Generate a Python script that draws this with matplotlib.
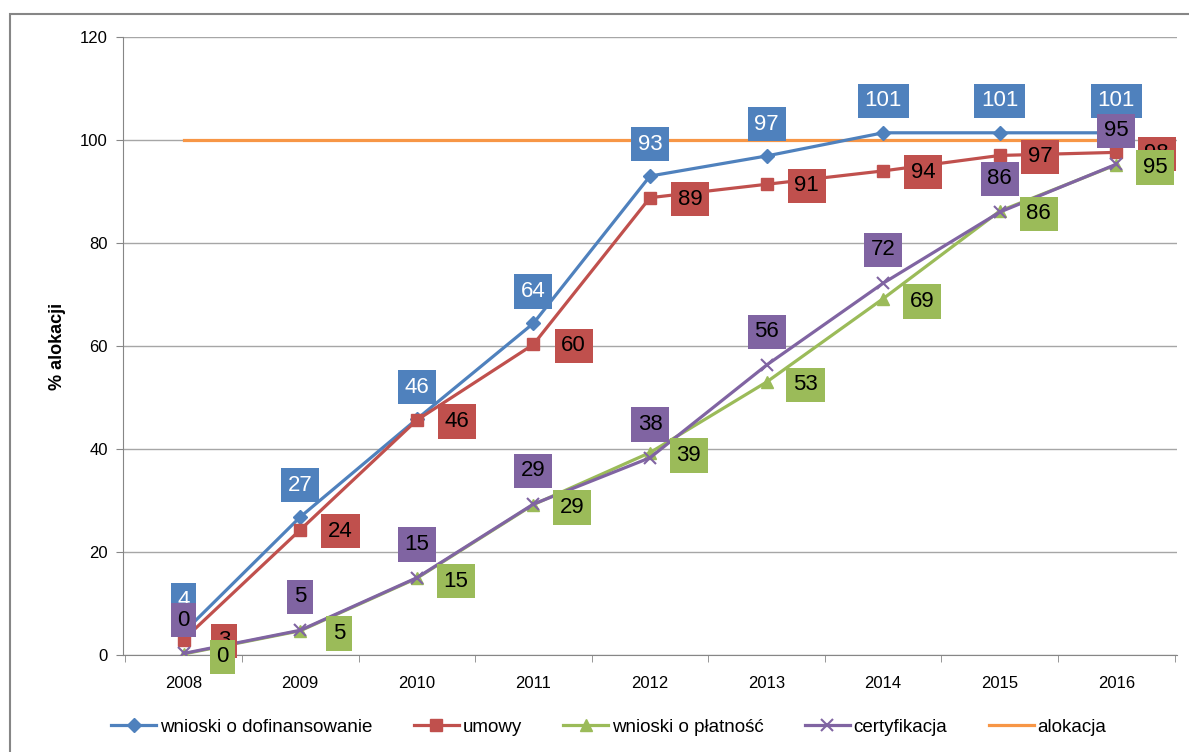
import matplotlib
matplotlib.use("Agg")
import matplotlib.pyplot as plt
from matplotlib.patches import Rectangle

plt.rcParams['font.family'] = ['Liberation Sans', 'DejaVu Sans']

years = ["2008", "2009", "2010", "2011", "2012", "2013", "2014", "2015", "2016"]
wnioski_dof = [4.4, 26.8, 45.8, 64.4, 93.0, 96.9, 101.4, 101.4, 101.4]
umowy = [3.0, 24.3, 45.6, 60.3, 88.8, 91.4, 94.0, 97.0, 97.6]
wnioski_plat = [0.2, 4.7, 14.9, 29.2, 39.3, 53.0, 69.2, 86.2, 95.2]
certyfikacja = [0.3, 4.8, 15.0, 29.3, 38.3, 56.3, 72.2, 86.0, 95.3]
alokacja = [100] * 9

lab_dof = [4, 27, 46, 64, 93, 97, 101, 101, 101]
lab_umowy = [3, 24, 46, 60, 89, 91, 94, 97, 98]
lab_plat = [0, 5, 15, 29, 39, 53, 69, 86, 95]
lab_cert = [0, 5, 15, 29, 38, 56, 72, 86, 95]

c_blue = "#4F81BD"
c_red = "#C0504D"
c_green = "#9BBB59"
c_purple = "#8064A2"
c_orange = "#F79646"

fig = plt.figure(figsize=(11.89, 7.52), dpi=100)
fig.patches.append(Rectangle((10/1189, -0.01), 1.2, 1 - 14/752 + 0.01, transform=fig.transFigure,
                             fill=False, edgecolor="#868686", linewidth=1.5))
ax = fig.add_axes([123/1189, 1 - 655/752, (1177 - 123)/1189, (655 - 37)/752])

x = list(range(len(years)))
lw = 2.3
ax.plot(x, wnioski_dof, color=c_blue, lw=lw, marker="D", ms=7, label="wnioski o dofinansowanie", zorder=5)
ax.plot(x, umowy, color=c_red, lw=lw, marker="s", ms=8, label="umowy", zorder=5)
ax.plot(x, wnioski_plat, color=c_green, lw=lw, marker="^", ms=9, label="wnioski o płatność", zorder=5)
ax.plot(x, certyfikacja, color=c_purple, lw=lw, marker="x", ms=9, mew=1.5, label="certyfikacja", zorder=5)
ax.plot(x, alokacja, color=c_orange, lw=lw, label="alokacja", zorder=4)

def labels(vals, labs, color, dx, dy, tcolor, z):
    for xi, v, l in zip(x, vals, labs):
        ax.annotate(str(l), (xi, v), xytext=(dx, dy), textcoords="offset points",
                    ha="center", va="center", fontsize=16, color=tcolor,
                    bbox=dict(boxstyle="square,pad=0.3", fc=color, ec="none"), zorder=z,
                    annotation_clip=False)

labels(wnioski_dof, lab_dof, c_blue, 0, 23, "white", 10)
labels(umowy, lab_umowy, c_red, 29, -1, "black", 11)
labels(wnioski_plat, lab_plat, c_green, 28, -2, "black", 12)
labels(certyfikacja, lab_cert, c_purple, 0, 24, "black", 13)

ax.set_xlim(-0.52, 8.52)
ax.set_ylim(0, 120)
ax.set_yticks(range(0, 121, 20))
ax.set_xticks(x)
ax.set_xticklabels(years)
ax.set_xticks([i + 0.5 for i in range(-1, 9)], minor=True)
ax.tick_params(axis="x", which="major", length=0, labelsize=12, pad=15)
ax.tick_params(axis="x", which="minor", length=5, color="#868686", direction="out")
ax.tick_params(axis="y", length=5, color="#868686", labelsize=12, pad=6)
ax.grid(axis="y", color="#A6A6A6", lw=1)
ax.set_axisbelow(True)
for s in ["top", "right"]:
    ax.spines[s].set_visible(False)
for s in ["left", "bottom"]:
    ax.spines[s].set_color("#868686")
ax.set_ylabel("% alokacji", fontsize=13, fontweight="bold", labelpad=10)

fig.legend(loc="center", bbox_to_anchor=(0.512, 1 - 727/752), ncol=5, frameon=False,
           fontsize=13.5, handlelength=2.4, columnspacing=2.2, handletextpad=0.2)

fig.savefig("out.png", dpi=100)
